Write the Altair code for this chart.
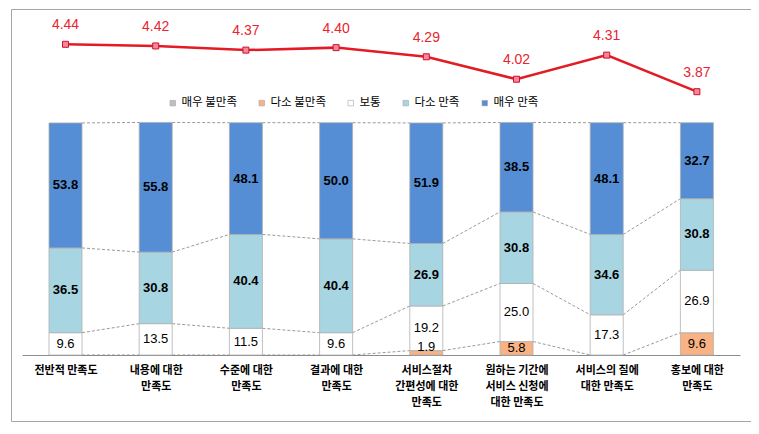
import json
import altair as alt
import pandas as pd

# ---------------- data ----------------
categories = [
    "전반적 만족도",
    "내용에 대한\n만족도",
    "수준에 대한\n만족도",
    "결과에 대한\n만족도",
    "서비스절차\n간편성에 대한\n만족도",
    "원하는 기간에\n서비스 신청에\n대한 만족도",
    "서비스의 질에\n대한 만족도",
    "홍보에 대한\n만족도",
]
levels = ["매우 불만족", "다소 불만족", "보통", "다소 만족", "매우 만족"]
very_dissatisfied = [0, 0, 0, 0, 0, 0, 0, 0]
somewhat_dissatisfied = [0, 0, 0, 0, 1.9, 5.8, 0, 9.6]
neutral = [9.6, 13.5, 11.5, 9.6, 19.2, 25.0, 17.3, 26.9]
somewhat_satisfied = [36.5, 30.8, 40.4, 40.4, 26.9, 30.8, 34.6, 30.8]
very_satisfied = [53.8, 55.8, 48.1, 50.0, 51.9, 38.5, 48.1, 32.7]
mean_score = [4.44, 4.42, 4.37, 4.40, 4.29, 4.02, 4.31, 3.87]

level_colors = ["#bfbfbf", "#f8b283", "#ffffff", "#a8d5e2", "#558ed5"]

# ---------------- tables ----------------
series = [very_dissatisfied, somewhat_dissatisfied, neutral, somewhat_satisfied, very_satisfied]
HW = 0.183  # half bar width in category units

seg_rows = []
cum = []
for i, cat in enumerate(categories):
    c = [0.0]
    for lv, vals in zip(levels, series):
        v = vals[i]
        y0 = c[-1]
        y1 = y0 + v
        c.append(y1)
        mid = (y0 + y1) / 2
        ly = mid if v >= 3 else y1 + 1.6
        seg_rows.append(dict(idx=i, cat=cat, level=lv, value=v, y0=y0, y1=y1,
                             ly=ly, x0=i - HW, x1=i + HW,
                             bold=lv in ("다소 만족", "매우 만족")))
    cum.append(c)
seg = pd.DataFrame(seg_rows)
seg = seg[seg["value"] > 0]

conn_rows = []
for k in range(2, 6):
    for i in range(len(categories) - 1):
        conn_rows.append(dict(x=i + HW, x2=i + 1 - HW, y=cum[i][k], y2=cum[i + 1][k]))
conn = pd.DataFrame(conn_rows)

line_df = pd.DataFrame(dict(idx=list(range(len(categories))), score=mean_score))

# ---------------- scales / axes ----------------
W, H = 740, 412
xs = alt.Scale(domain=[-0.4823, 7.4778], range=[11, 729])
ys_bar = alt.Scale(domain=[0, 100], range=[346, 113.7])
ys_line = alt.Scale(domain=[3.87, 4.44], range=[82.7, 35.3])

label_arr = json.dumps([c.replace("\n", "|") for c in categories], ensure_ascii=False)
xaxis = alt.Axis(
    values=list(range(len(categories))),
    labelExpr=f"split({label_arr}[round(datum.value)], '|')",
    title=None, ticks=False, grid=False, offset=-(H - 346),
    domainColor="#8c8c8c", domainWidth=1,
    labelFont="Noto Sans CJK KR", labelFontWeight="bold", labelFontSize=11,
    labelColor="#000000", labelLineHeight=16, labelPadding=9,
    labelAngle=0, labelAlign="center", labelBaseline="top",
    labelOverlap=False, labelFlush=False, labelBound=False,
)

connectors = alt.Chart(conn).mark_rule(
    color="#808080", strokeDash=[3, 2], strokeWidth=0.8
).encode(
    x=alt.X("x:Q", scale=xs, axis=xaxis), x2="x2:Q",
    y=alt.Y("y:Q", scale=ys_bar, axis=None), y2="y2:Q",
)

bars = alt.Chart(seg).mark_rect(stroke="#b0b0b0", strokeWidth=0.8).encode(
    x=alt.X("x0:Q", scale=xs, axis=xaxis), x2="x1:Q",
    y=alt.Y("y0:Q", scale=ys_bar, axis=None), y2="y1:Q",
    color=alt.Color(
        "level:N",
        scale=alt.Scale(domain=levels, range=level_colors),
        legend=alt.Legend(
            orient="none", legendX=156, legendY=88, direction="horizontal",
            title=None, symbolType="square", symbolSize=30,
            symbolStrokeColor="#a6a6a6", symbolStrokeWidth=0.6,
            labelFont="Noto Sans CJK KR", labelFontSize=11.5, labelColor="#000000",
            labelOffset=3, columnPadding=19, padding=0,
        ),
    ),
)

seg_text_bold = alt.Chart(seg[seg["bold"]]).mark_text(
    font="Liberation Sans", fontSize=13, fontWeight="bold", color="#000000"
).encode(
    x=alt.X("idx:Q", scale=xs, axis=xaxis),
    y=alt.Y("ly:Q", scale=ys_bar, axis=None),
    text=alt.Text("value:Q", format=".1f"),
)
seg_text_norm = alt.Chart(seg[~seg["bold"]]).mark_text(
    font="Liberation Sans", fontSize=13, color="#000000"
).encode(
    x=alt.X("idx:Q", scale=xs, axis=xaxis),
    y=alt.Y("ly:Q", scale=ys_bar, axis=None),
    text=alt.Text("value:Q", format=".1f"),
)

line = alt.Chart(line_df).mark_line(color="#e31b23", strokeWidth=2.5).encode(
    x=alt.X("idx:Q", scale=xs, axis=xaxis),
    y=alt.Y("score:Q", scale=ys_line, axis=None),
)
pts = alt.Chart(line_df).mark_point(
    shape="square", filled=True, fill="#f4879f", stroke="#d0102a",
    strokeWidth=1, size=36, opacity=1
).encode(
    x=alt.X("idx:Q", scale=xs, axis=xaxis),
    y=alt.Y("score:Q", scale=ys_line, axis=None),
)
pt_labels = alt.Chart(line_df).mark_text(
    font="Liberation Sans", fontSize=14, color="#e8242e", dy=-19
).encode(
    x=alt.X("idx:Q", scale=xs, axis=xaxis),
    y=alt.Y("score:Q", scale=ys_line, axis=None),
    text=alt.Text("score:Q", format=".2f"),
)

chart = alt.layer(
    connectors, bars, seg_text_bold, seg_text_norm, line, pts, pt_labels
).resolve_scale(y="independent").properties(
    width=W, height=H,
    padding={"left": 3, "top": 1, "right": 0, "bottom": 1},
    autosize=alt.AutoSizeParams(type="none"),
    background="#ffffff",
).configure_view(stroke="#a6a6a6", strokeWidth=1)

chart.save("out.html", embed_options={"renderer": "svg", "actions": False})
